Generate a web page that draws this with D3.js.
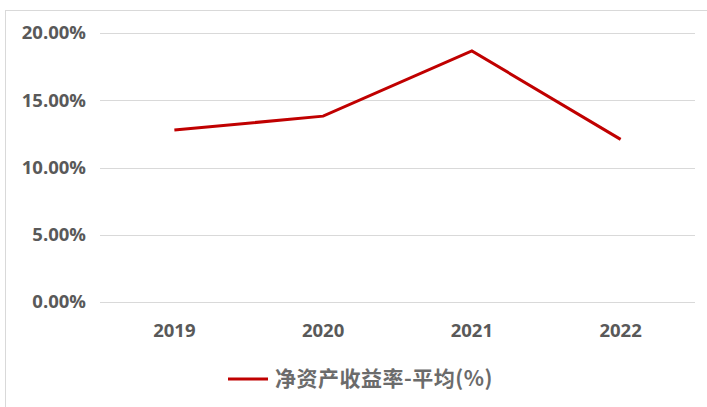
<!DOCTYPE html>
<html>
<head>
<meta charset="utf-8">
<script src="https://cdn.jsdelivr.net/npm/d3@7"></script>
<style>
  html, body { margin: 0; padding: 0; background: #fff; }
  svg { display: block; }
</style>
</head>
<body>
<svg id="chart" width="707" height="407"></svg>
<script>
const categories = ["2019", "2020", "2021", "2022"];
const roeValues = [12.78, 13.82, 18.67, 12.09];
const yTicks = [0, 5, 10, 15, 20];
const seriesName = "净资产收益率-平均(%)";

const svg = d3.select("#chart");
const W = 707, H = 407;

// outer frame
svg.append("rect")
  .attr("x", 5.5).attr("y", 10.5)
  .attr("width", W + 10).attr("height", H)
  .attr("fill", "#fff").attr("stroke", "#d9d9d9").attr("stroke-width", 1);

const plot = { left: 100, right: 695, top: 33, bottom: 302 };

const x = d3.scaleBand().domain(categories).range([plot.left, plot.right]);
const y = d3.scaleLinear().domain([0, 20]).range([plot.bottom, plot.top]);

// gridlines
svg.append("g")
  .selectAll("line")
  .data(yTicks)
  .join("line")
  .attr("x1", plot.left).attr("x2", plot.right)
  .attr("y1", d => Math.round(y(d)) + 0.5).attr("y2", d => Math.round(y(d)) + 0.5)
  .attr("stroke", "#d9d9d9").attr("stroke-width", 1);

// y axis
const yAxis = d3.axisLeft(y).tickValues(yTicks).tickSize(0).tickPadding(0)
  .tickFormat(d => d.toFixed(2) + "%");
const yg = svg.append("g").attr("transform", `translate(86,0)`).call(yAxis);
yg.select(".domain").remove();
yg.selectAll("text")
  .attr("font-family", "'Open Sans', sans-serif")
  .attr("font-weight", 700)
  .attr("font-size", 18.5)
  .attr("fill", "#595959");

// x axis
const xAxis = d3.axisBottom(x).tickSize(0).tickPadding(0);
const xg = svg.append("g").attr("transform", `translate(0,${plot.bottom + 22})`).call(xAxis);
xg.select(".domain").remove();
xg.selectAll("text")
  .attr("font-family", "'Open Sans', sans-serif")
  .attr("font-weight", 700)
  .attr("font-size", 18.5)
  .attr("fill", "#595959");

// line
const line = d3.line()
  .x((d, i) => x(categories[i]) + x.bandwidth() / 2)
  .y(d => y(d));
svg.append("path")
  .datum(roeValues)
  .attr("d", line)
  .attr("fill", "none")
  .attr("stroke", "#c00000")
  .attr("stroke-width", 3)
  .attr("stroke-linejoin", "miter");

// legend
const lg = svg.append("g").attr("transform", "translate(228,379)");
lg.append("line")
  .attr("x1", 0).attr("x2", 40).attr("y1", 0).attr("y2", 0)
  .attr("stroke", "#c00000").attr("stroke-width", 3);
lg.append("text")
  .attr("x", 47).attr("y", 0)
  .attr("dy", "0.35em")
  .attr("font-family", "'Noto Sans CJK SC', sans-serif")
  .attr("font-weight", 700)
  .attr("font-size", 21)
  .attr("letter-spacing", 0.5)
  .attr("fill", "#6b6b6b")
  .text(seriesName);
</script>
</body>
</html>
